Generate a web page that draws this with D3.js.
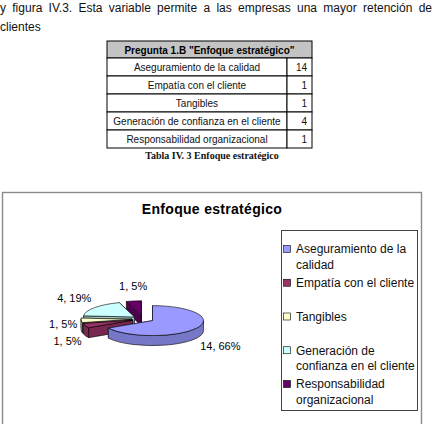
<!DOCTYPE html>
<html>
<head>
<meta charset="utf-8">
<script src="https://cdn.jsdelivr.net/npm/d3@7"></script>
<style>
  html, body { margin: 0; padding: 0; background: #fff; }
  svg { display: block; }
  text { font-family: "Liberation Sans", Arial, sans-serif; }
</style>
</head>
<body>
<svg id="chart" width="432" height="424"></svg>
<script>
// ---------------- data ----------------
const paragraphLines = [
  "y figura IV.3. Esta variable permite a las empresas una mayor retención de",
  "clientes"
];
const tableTitle = 'Pregunta 1.B "Enfoque estratégico"';
const tableCaption = "Tabla IV. 3 Enfoque estratégico";
const chartTitle = "Enfoque estratégico";
const categories = [
  "Aseguramiento de la calidad",
  "Empatía con el cliente",
  "Tangibles",
  "Generación de confianza en el cliente",
  "Responsabilidad organizacional"
];
const values = [14, 1, 1, 4, 1];
const percents = [66, 5, 5, 19, 5];
const colors = ["#9999FF", "#993366", "#FFFFCC", "#CCFFFF", "#660066"];
const legendLines = [
  ["Aseguramiento de la", "calidad"],
  ["Empatía con el cliente"],
  ["Tangibles"],
  ["Generación de", "confianza en el cliente"],
  ["Responsabilidad", "organizacional"]
];

// ---------------- drawing ----------------
const svg = d3.select("#chart");

// paragraph (justified first line)
(function () {
  const left = 0, right = 432;
  paragraphLines.forEach((line, li) => {
    const y = 11.5 + li * 19.5;
    const words = line.split(" ");
    const g = svg.append("g");
    const nodes = words.map(w => g.append("text").attr("y", y)
      .attr("font-size", 12).attr("fill", "#111").text(w));
    const widths = nodes.map(n => n.node().getComputedTextLength());
    const justify = li < paragraphLines.length - 1;
    const total = d3.sum(widths);
    const gap = justify && words.length > 1 ? (right - left - total) / (words.length - 1) : 3.3;
    let x = left;
    nodes.forEach((n, i) => { n.attr("x", x); x += widths[i] + gap; });
  });
})();

// table
(function () {
  const x0 = 107, xs = 287, x1 = 312, top = 41, hh = 17, rh = 18;
  const g = svg.append("g");
  g.append("rect").attr("x", x0).attr("y", top).attr("width", x1 - x0).attr("height", hh)
    .attr("fill", "#c4c4c4").attr("stroke", "#000").attr("stroke-width", 1);
  g.append("text").attr("x", (x0 + x1) / 2).attr("y", top + hh / 2 + 4)
    .attr("text-anchor", "middle").attr("font-size", 10).attr("font-weight", "bold")
    .attr("fill", "#000").text(tableTitle);
  const rowY = d3.scaleBand().domain(d3.range(categories.length))
    .range([top + hh, top + hh + rh * categories.length]);
  categories.forEach((c, i) => {
    const y = rowY(i);
    g.append("rect").attr("x", x0).attr("y", y).attr("width", xs - x0).attr("height", rh)
      .attr("fill", "#fff").attr("stroke", "#000").attr("stroke-width", 1);
    g.append("rect").attr("x", xs).attr("y", y).attr("width", x1 - xs).attr("height", rh)
      .attr("fill", "#fff").attr("stroke", "#000").attr("stroke-width", 1);
    g.append("text").attr("x", (x0 + xs) / 2).attr("y", y + rh / 2 + 3.5)
      .attr("text-anchor", "middle").attr("font-size", 10).attr("fill", "#111").text(c);
    g.append("text").attr("x", x1 - 5).attr("y", y + rh / 2 + 3.5)
      .attr("text-anchor", "end").attr("font-size", 10).attr("fill", "#111").text(values[i]);
  });
  g.append("text").attr("x", 212).attr("y", 159).attr("text-anchor", "middle")
    .style("font-family", "'Liberation Serif', 'Times New Roman', serif")
    .attr("font-size", 10).attr("font-weight", "bold").attr("fill", "#111").text(tableCaption);
})();

// chart box
svg.append("rect").attr("x", 2.5).attr("y", 192.5).attr("width", 419).attr("height", 240)
  .attr("fill", "#fff").attr("stroke", "#8a8a8a").attr("stroke-width", 1.4);

svg.append("text").attr("x", 212).attr("y", 214).attr("text-anchor", "middle")
  .attr("font-size", 14).attr("font-weight", "bold").attr("letter-spacing", 0.3)
  .attr("fill", "#000").text(chartTitle);

// 3D pie
(function () {
  const cx = 143, cy = 319, rx = 51, ry = 15, depth = 10, explode = 11;
  const color = d3.scaleOrdinal().domain(categories).range(colors);
  const arcs = d3.pie().sort(null).value(d => d.v)(categories.map((c, i) => ({ c, v: values[i], p: percents[i], i })));
  const pt = (ox, oy, a, dy = 0) => [ox + rx * Math.sin(a), oy - ry * Math.cos(a) + dy];
  arcs.forEach(d => {
    d.mid = (d.startAngle + d.endAngle) / 2;
    d.ox = cx + explode * Math.sin(d.mid);
    d.oy = cy - explode * (ry / rx) * Math.cos(d.mid);
  });
  const order = arcs.slice().sort((a, b) => (-Math.cos(a.mid)) - (-Math.cos(b.mid)));
  const g = svg.append("g");
  const stroke = "#000", sw = 0.6;
  order.forEach(d => {
    const top = color(d.data.c);
    const side = d3.color(top).darker(0.7).formatHex();
    const a0 = d.startAngle, a1 = d.endAngle;
    const walls = [
      { a: a0, n: a0 - Math.PI / 2 },
      { a: a1, n: a1 + Math.PI / 2 }
    ];
    const wallPath = a => {
      const p = pt(d.ox, d.oy, a);
      return `M${d.ox},${d.oy}L${p[0]},${p[1]}L${p[0]},${p[1] + depth}L${d.ox},${d.oy + depth}Z`;
    };
    const back = walls.filter(w => Math.cos(w.n) >= 0), front = walls.filter(w => Math.cos(w.n) < 0);
    back.concat(front).forEach(w => {
      g.append("path").attr("d", wallPath(w.a)).attr("fill", side)
        .attr("stroke", stroke).attr("stroke-width", sw).attr("stroke-linejoin", "round");
    });
    const s = Math.max(a0, Math.PI / 2), e = Math.min(a1, 3 * Math.PI / 2);
    if (e > s) {
      const ps = pt(d.ox, d.oy, s), pe = pt(d.ox, d.oy, e);
      const large = e - s > Math.PI ? 1 : 0;
      g.append("path")
        .attr("d", `M${ps[0]},${ps[1]}A${rx},${ry} 0 ${large} 1 ${pe[0]},${pe[1]}L${pe[0]},${pe[1] + depth}A${rx},${ry} 0 ${large} 0 ${ps[0]},${ps[1] + depth}Z`)
        .attr("fill", side).attr("stroke", stroke).attr("stroke-width", sw).attr("stroke-linejoin", "round");
    }
    const p0 = pt(d.ox, d.oy, a0), p1 = pt(d.ox, d.oy, a1);
    const large = a1 - a0 > Math.PI ? 1 : 0;
    g.append("path")
      .attr("d", `M${d.ox},${d.oy}L${p0[0]},${p0[1]}A${rx},${ry} 0 ${large} 1 ${p1[0]},${p1[1]}Z`)
      .attr("fill", top).attr("stroke", stroke).attr("stroke-width", sw).attr("stroke-linejoin", "round");
  });
  arcs.forEach(d => {
    const sn = Math.sin(d.mid), cs = Math.cos(d.mid);
    const lx = d.ox + (rx + 4) * sn;
    const ly = d.oy - (ry + 15) * cs + depth * Math.max(0, Math.min(1, -cs * 3));
    const anchor = sn > 0.3 ? "start" : (sn < -0.3 ? "end" : "middle");
    svg.append("text").attr("x", lx).attr("y", ly).attr("dy", "0.36em")
      .attr("text-anchor", anchor).attr("font-size", 11).attr("fill", "#000")
      .text(`${d.data.v}, ${d.data.p}%`);
  });
})();

// legend
(function () {
  const lx = 281, ly = 230, lw = 136, lh = 180;
  const g = svg.append("g");
  g.append("rect").attr("x", lx + 0.5).attr("y", ly + 0.5).attr("width", lw).attr("height", lh)
    .attr("fill", "#fff").attr("stroke", "#444").attr("stroke-width", 1);
  const y = d3.scaleLinear().domain([0, categories.length - 1]).range([249, 384]);
  categories.forEach((c, i) => {
    const yc = y(i);
    g.append("rect").attr("x", 283.5).attr("y", yc - 3.5).attr("width", 7).attr("height", 7)
      .attr("fill", colors[i]).attr("stroke", "#000").attr("stroke-width", 0.6);
    legendLines[i].forEach((t, j) => {
      g.append("text").attr("x", 296).attr("y", yc + j * 15.5).attr("dy", "0.36em")
        .attr("font-size", 12).attr("fill", "#111").text(t);
    });
  });
})();
</script>
</body>
</html>
